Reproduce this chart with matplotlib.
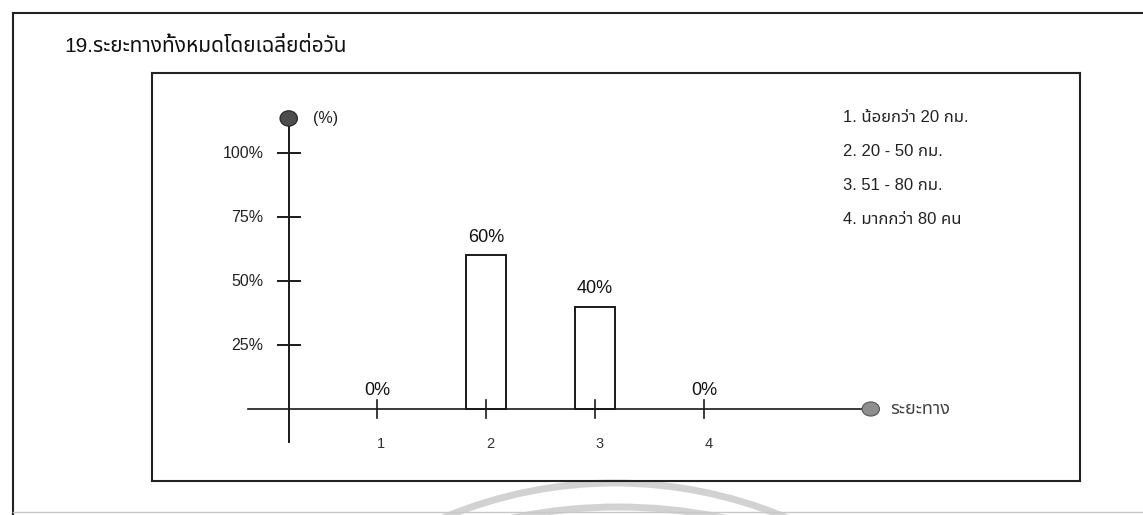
import matplotlib
matplotlib.use("Agg")
import matplotlib.pyplot as plt
from matplotlib.patches import Arc, Ellipse

# Latin text in an Arial-like face, Thai falls through to Noto Sans Thai
plt.rcParams['font.family'] = ['Liberation Sans', 'Noto Sans Thai']

title = "19.ระยะทางทั้งหมดโดยเฉลี่ยต่อวัน"
categories = [1, 2, 3, 4]
percent = [0, 60, 40, 0]
y_ticks = [25, 50, 75, 100]
legend_items = ["1. น้อยกว่า 20 กม.", "2. 20 - 50 กม.", "3. 51 - 80 กม.", "4. มากกว่า 80 คน"]
x_name = "ระยะทาง"
y_name = "(%)"

W, H = 1143, 515
fig = plt.figure(figsize=(W / 100, H / 100), dpi=100)

# background layer in pixel units: frame of the scanned page + faint watermark
bg = fig.add_axes([0, 0, 1, 1])
bg.set_xlim(0, W)
bg.set_ylim(H, 0)
bg.axis('off')
bg.plot([13, 13], [13, H], color='#222222', lw=1.5)
bg.plot([13, W], [13, 13], color='#222222', lw=1.5)
bg.plot([13, W], [512, 512], color='#c8c8c8', lw=1)
bg.add_patch(Arc((615, 924), 882, 882, color='#d2d2d2', lw=5))
bg.add_patch(Arc((618, 1022), 1030, 1030, color='#d2d2d2', lw=5))
bg.text(64, 47, title, fontsize=15, va='center', color='#111111')

for i, item in enumerate(legend_items):
    bg.text(843, 117 + 34 * i, item, fontsize=12, va='center', color='#222222')

# chart box: category 1 sits at 377 px, 109 px per category, 2.56 px per percent
ax = fig.add_axes([152 / W, (H - 481) / H, 928 / W, 408 / H])
ax.set_xlim(1 - 225 / 109, 1 - 225 / 109 + 928 / 109)
ax.set_ylim(-72 / 2.56, -72 / 2.56 + 408 / 2.56)
ax.set_xticks([])
ax.set_yticks([])
for s in ax.spines.values():
    s.set_linewidth(1.5)
    s.set_color('#222222')
ax.patch.set_alpha(0)

axis_x = 0.19
ink = '#1a1a1a'

# hand drawn style axes
ax.plot([axis_x, axis_x], [-13, 113], color=ink, lw=1.4)
ax.plot([-0.18, 5.52], [0, 0], color=ink, lw=1.2, zorder=4)
ax.add_patch(Ellipse((axis_x, 113.5), 0.16, 6.0, facecolor='#4d4d4d', edgecolor='#222222', lw=0.8, zorder=5))
ax.add_patch(Ellipse((5.53, 0), 0.16, 5.5, facecolor='#8f8f8f', edgecolor='#555555', lw=0.8, zorder=5))
ax.text(axis_x + 0.22, 113.5, y_name, fontsize=11.5, va='center', color='#222222')
ax.text(5.71, 0, x_name, fontsize=13, va='center', color='#444444')

for t in y_ticks:
    ax.plot([axis_x - 0.1, axis_x + 0.1], [t, t], color=ink, lw=1.4)
    ax.text(axis_x - 0.23, t, f"{t}%", fontsize=11.5, ha='right', va='center', color='#222222')

for c in categories:
    ax.plot([c, c], [-3.5, 3.5], color=ink, lw=1.2, zorder=4)
    ax.text(c + 0.04, -13.5, str(c), fontsize=10.5, ha='center', va='center', color='#333333')

# empty categories get no outline, only their 0% label
ax.bar(categories, percent, width=0.375, facecolor='white', edgecolor=ink,
       lw=[1.4 if v else 0 for v in percent], zorder=3)
for c, v in zip(categories, percent):
    ax.annotate(f"{v}%", (c, v), xytext=(0, 7), textcoords='offset points',
                ha='center', va='bottom', fontsize=13, color='#111111')

fig.savefig("out.png", dpi=100)
